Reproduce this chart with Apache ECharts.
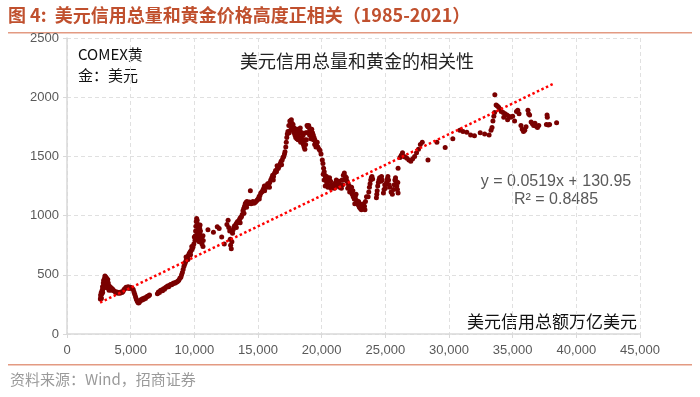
<!DOCTYPE html>
<html>
<head>
<meta charset="utf-8">
<script src="https://cdn.jsdelivr.net/npm/echarts@6/dist/echarts.min.js"></script>
<style>
  html, body { margin: 0; padding: 0; background: #fff; }
  #chart { width: 700px; height: 397px; }
</style>
</head>
<body>
<div id="chart"></div>
<script>
// 美元信用总额（x）与 COMEX 黄金价格（y），按时期分段读取
const era1985 = [
  [2620,295],[2640,330],[2660,310],[2690,350],[2720,335],[2760,370],[2790,400],[2820,380],[2850,430],[2880,455],
  [2910,420],[2950,470],[2980,490],[3020,460],[3060,480],[3090,445],[3120,420],[3160,450],[3200,410],[3240,430],
  [3280,395],[3320,405],[3370,380],[3420,395],[3470,370],[3530,385],[3600,375],[3680,365],[3760,360],[3840,350],
  [3920,355],[4000,345],[4080,350],[4160,345],[4240,355],[4320,350],[4400,360],[4480,375],[4560,385],[4640,395],
  [4720,390],[4800,400],[4880,385],[4960,395],[5040,390],[5120,385],[5200,375],[5260,355],[5320,335],[5380,315],
  [5440,295],[5500,280],[5560,268],[5620,262],[5680,268],[5740,278],[5800,290],[5860,285],[5930,298],[6000,292],
  [6080,305],[6160,300],[6240,312],[6320,318],[6400,322],[6480,330],
  [2700,300],[2800,350],[2900,390],[3000,440],[3100,470],[3200,460],[3300,370],[3150,390]
];
const era1995 = [
  [7100,340],[7180,355],[7260,350],[7340,368],[7420,372],[7500,365],[7580,382],[7660,378],[7740,392],[7820,398],
  [7900,405],[7980,400],[8060,412],[8140,418],[8220,415],[8300,425],[8380,430],[8460,428],[8540,435],[8620,440],
  [8700,445],[8780,455],[8860,470],[8940,480],[9000,500],[9060,520],[9120,545],[9180,570],[9240,590],[9300,605],
  [9360,620],[9420,640],[9480,650],[9540,665],[9600,680],[9660,690],[9720,700],[9780,710],[9840,720],[9900,735],
  [9960,760],[10050,790],[10080,830],[10100,870],[10120,910],[10150,950],[10180,975],[10220,960],[10250,930],
  [10280,900],[10300,870],[10320,840],[10350,810],[10380,780],[10400,850],[10420,890],[10450,920],[10480,870],
  [10500,830],[10550,800],[10600,760],[10680,830],[10680,740],[10700,790],
  [9350,650],[9500,630],[9700,670],[9800,740],[10000,820],[10150,800],[10250,850],[10350,900],[10450,780]
];
const era2009 = [
  [11070,880],[11500,860],[11800,905],[11950,890],[12150,820],[12350,760],[12560,925],[12650,960],[12700,900],
  [12780,870],[12820,800],[12850,750],[12900,720],[12950,780],[13000,850],[13050,880],[13100,900],[13160,915],
  [13220,910],[13280,930],[13340,940],[13400,950],[13460,945],[13520,960],[13580,975],[13640,985],[13700,990],
  [13760,1010],[13820,1040],[13880,1060],[13940,1080],[14000,1100],[14060,1110],[14130,1120],[14200,1100],
  [14260,1105],[14330,1115],[14400,1210],[14460,1100],[14530,1110],[14600,1120],[14680,1105],[14760,1110],
  [14840,1120],[14920,1130],[15000,1140],[15080,1160],[15150,1170],[15220,1190],[15300,1200],[15380,1215],
  [15450,1230],[15520,1210],[15600,1250],[15680,1240],[15760,1270],[15840,1260],[15920,1280],[16000,1300],
  [16080,1320],[16150,1340],[16220,1330],[16300,1360],[16380,1380],[16450,1370],[16520,1395],[16600,1400],
  [16680,1420],[16750,1440],[16820,1460],[16900,1470],[16960,1490],[17020,1500],[17080,1520],[17120,1540],
  [17180,1580],[17220,1620],[17260,1660],[17300,1690],
  [13300,900],[13600,940],[13900,1020],[14100,1070],[15100,1140],[15500,1250],[15900,1240],[16200,1300],
  [16500,1420],[16850,1430]
];
const era2011 = [
  [17350,1710],[17420,1760],[17500,1800],[17560,1790],[17620,1810],[17670,1780],[17720,1750],[17780,1720],
  [17840,1700],[17900,1680],[17960,1660],[18020,1700],[18080,1730],[18140,1710],[18200,1690],[18260,1720],
  [18320,1740],[18380,1700],[18440,1650],[18500,1620],[18560,1600],[18620,1580],[18680,1560],[18740,1600],
  [18800,1640],[18860,1700],[18920,1750],[18980,1760],[19040,1740],[19100,1720],[19160,1710],[19220,1730],
  [19280,1700],[19340,1680],[19400,1660],[19460,1640],[19520,1620],[19600,1610],[19700,1580],[19800,1560],
  [19870,1550],
  [17450,1700],[17550,1720],[17650,1740],[17750,1770],[17850,1740],[17950,1720],[18050,1650],[18150,1640],
  [18250,1660],[18350,1620],[18450,1700],[18550,1680],[18650,1640],[18750,1700],[18850,1760],[18950,1700],
  [19050,1680],[19150,1650],[19250,1680],[19350,1640],[19450,1600],[19550,1580],[19650,1620]
];
const era2013 = [
  [19950,1520],[20050,1470],[20100,1440],[20150,1400],[20200,1370],[20250,1340],[20300,1320],[20350,1300],
  [20400,1280],[20450,1260],[20500,1240],[20560,1300],[20620,1320],[20700,1290],[20780,1260],[20860,1240],
  [20940,1250],[21020,1270],[21100,1280],[21200,1270],[21300,1250],[21400,1240],[21500,1260],[21600,1300],
  [21700,1340],[21780,1360],[21860,1330],[21940,1320],[22000,1290],[22080,1270],[22160,1250],[22240,1230],
  [22320,1200],[22400,1180],[22480,1160],[22560,1140],[22640,1160],[22720,1130],[22800,1110],[22880,1090],
  [22960,1070],[23040,1060],[23120,1050],[23200,1070],[23280,1060],[23360,1080],[23440,1120],[23520,1160],
  [23650,1160],[23700,1200],[23750,1240],[23800,1270],[23850,1300],[23900,1320],[23950,1330],[24000,1310],
  [24300,1150],[24330,1180],[24360,1210],[24400,1250],[24450,1280],[24500,1300],[24550,1320],[24600,1310],
  [24650,1290],[24700,1330],[24750,1300],[24850,1190],[24900,1220],[24950,1260],[25000,1230],[25100,1280],
  [25150,1310],[25200,1330],[25250,1300],[25300,1260],[25350,1240],[25450,1200],[25550,1180],[25650,1220],
  [25700,1260],[25750,1300],[25800,1320],[25850,1290],[25900,1250],[25950,1220],[26000,1190],[25980,1280],
  [26000,1400],
  [20120,1350],[20200,1300],[20280,1250],[20380,1330],[20480,1290],[20600,1250],[20750,1230],[21000,1230],
  [21150,1300],[21350,1290],[21550,1230],[21650,1260],[21820,1300],[22050,1230],[22200,1200],[22350,1240],
  [22450,1210],[22600,1100],[22700,1180],[22900,1120],[23000,1100],[23100,1090],[23300,1100],[23400,1050]
];
const era2019 = [
  [26150,1490],[26250,1510],[26350,1530],[26450,1500],[26550,1495],[26700,1485],[26850,1470],[27000,1460],
  [27150,1480],[27300,1500],[27450,1530],[27600,1560],[27750,1600],[27900,1620],[28350,1470],[29050,1620],
  [29700,1575],[30300,1650],[30850,1720],[31100,1710],[31400,1705],[31700,1680],[32000,1675],[32450,1700],
  [32800,1690],[33150,1680],[33300,1720],[33380,1745],[33450,1800],[33520,1840],[33580,1870],[33600,2020],
  [33700,1935],[33800,1925],[33900,1915],[34000,1900],[34100,1880],[34250,1870],[34400,1860],[34550,1850],
  [34700,1840],[34850,1830],[35000,1840],[34300,1830],[34600,1810],[35150,1800],[35300,1880],[35400,1890],
  [35500,1860],[35650,1760],[35750,1730],[35850,1710],[35950,1720],[36050,1750],[36200,1890],[36250,1860],
  [36330,1850],[36450,1790],[36550,1775],[36650,1760],[36750,1780],[36850,1755],[36950,1745],[37050,1760],
  [37700,1850],[37720,1830],[37650,1770],[37800,1765],[37900,1770],[38450,1785]
];

// 线性拟合：y = 0.0519x + 130.95
const trendSlope = 0.0519;
const trendIntercept = 130.95;
const trendRange = [2600, 38200];

const chart = echarts.init(document.getElementById('chart'));
const points = [].concat(era1985, era1995, era2009, era2011, era2013, era2019);
const trend = trendRange.map(x => [x, trendSlope * x + trendIntercept]);

const cjk = '"Noto Sans CJK SC", sans-serif';
const latin = '"Liberation Sans", Arial, sans-serif';

chart.setOption({
  animation: false,
  backgroundColor: '#fff',
  grid: { left: 67, right: 60, top: 38, bottom: 63 },
  xAxis: {
    type: 'value',
    min: 0, max: 45000, interval: 5000,
    axisLine: { show: true, lineStyle: { color: '#d9d9d9', width: 1.5 } },
    axisTick: { show: true, length: 4, lineStyle: { color: '#d9d9d9' } },
    axisLabel: {
      color: '#595959', fontSize: 13, fontFamily: latin, margin: 10,
      formatter: v => v.toLocaleString('en-US')
    },
    splitLine: { show: true, lineStyle: { color: '#e0e0e0', type: [4, 3] } }
  },
  yAxis: {
    type: 'value',
    min: 0, max: 2500, interval: 500,
    axisLine: { show: true, lineStyle: { color: '#d9d9d9', width: 1.5 } },
    axisTick: { show: true, length: 4, lineStyle: { color: '#d9d9d9' } },
    axisLabel: { color: '#595959', fontSize: 13, fontFamily: latin, margin: 8, formatter: v => String(v) },
    splitLine: { show: true, lineStyle: { color: '#e0e0e0', type: [4, 3] } }
  },
  series: [
    {
      type: 'scatter',
      data: points,
      symbolSize: 5,
      itemStyle: { color: '#7a0000', opacity: 1 },
      z: 2
    },
    {
      type: 'line',
      data: trend,
      symbol: 'none',
      lineStyle: { color: '#ff0000', width: 2.5, type: 'dotted' },
      z: 3
    }
  ],
  graphic: [
    { type: 'text', left: 8, top: 6,
      style: { text: '图 4:  美元信用总量和黄金价格高度正相关（1985-2021）', fill: '#c0502e',
               font: 'bold 18px ' + cjk } },
    { type: 'rect', shape: { x: 8, y: 32, width: 684, height: 1.5 }, style: { fill: '#e39a82' } },
    { type: 'text', left: 78, top: 44,
      style: { text: 'COMEX黄\n金：美元', fill: '#111', font: '15px ' + cjk, lineHeight: 21 } },
    { type: 'text', x: 357, y: 52,
      style: { text: '美元信用总量和黄金的相关性', fill: '#222', font: '18px ' + cjk, textAlign: 'center' } },
    { type: 'text', x: 556, y: 174,
      style: { text: 'y = 0.0519x + 130.95', fill: '#595959', font: '16px ' + latin, textAlign: 'center' } },
    { type: 'text', x: 556, y: 192,
      style: { text: 'R² = 0.8485', fill: '#595959', font: '16px ' + latin, textAlign: 'center' } },
    { type: 'text', x: 637, y: 313,
      style: { text: '美元信用总额万亿美元', fill: '#111', font: '17px ' + cjk, textAlign: 'right' } },
    { type: 'rect', shape: { x: 8, y: 364, width: 684, height: 1.5 }, style: { fill: '#e39a82' } },
    { type: 'text', left: 10, top: 372,
      style: { text: '资料来源：Wind，招商证券', fill: '#9a9a9a', font: '15px ' + cjk } }
  ]
});
</script>
</body>
</html>
